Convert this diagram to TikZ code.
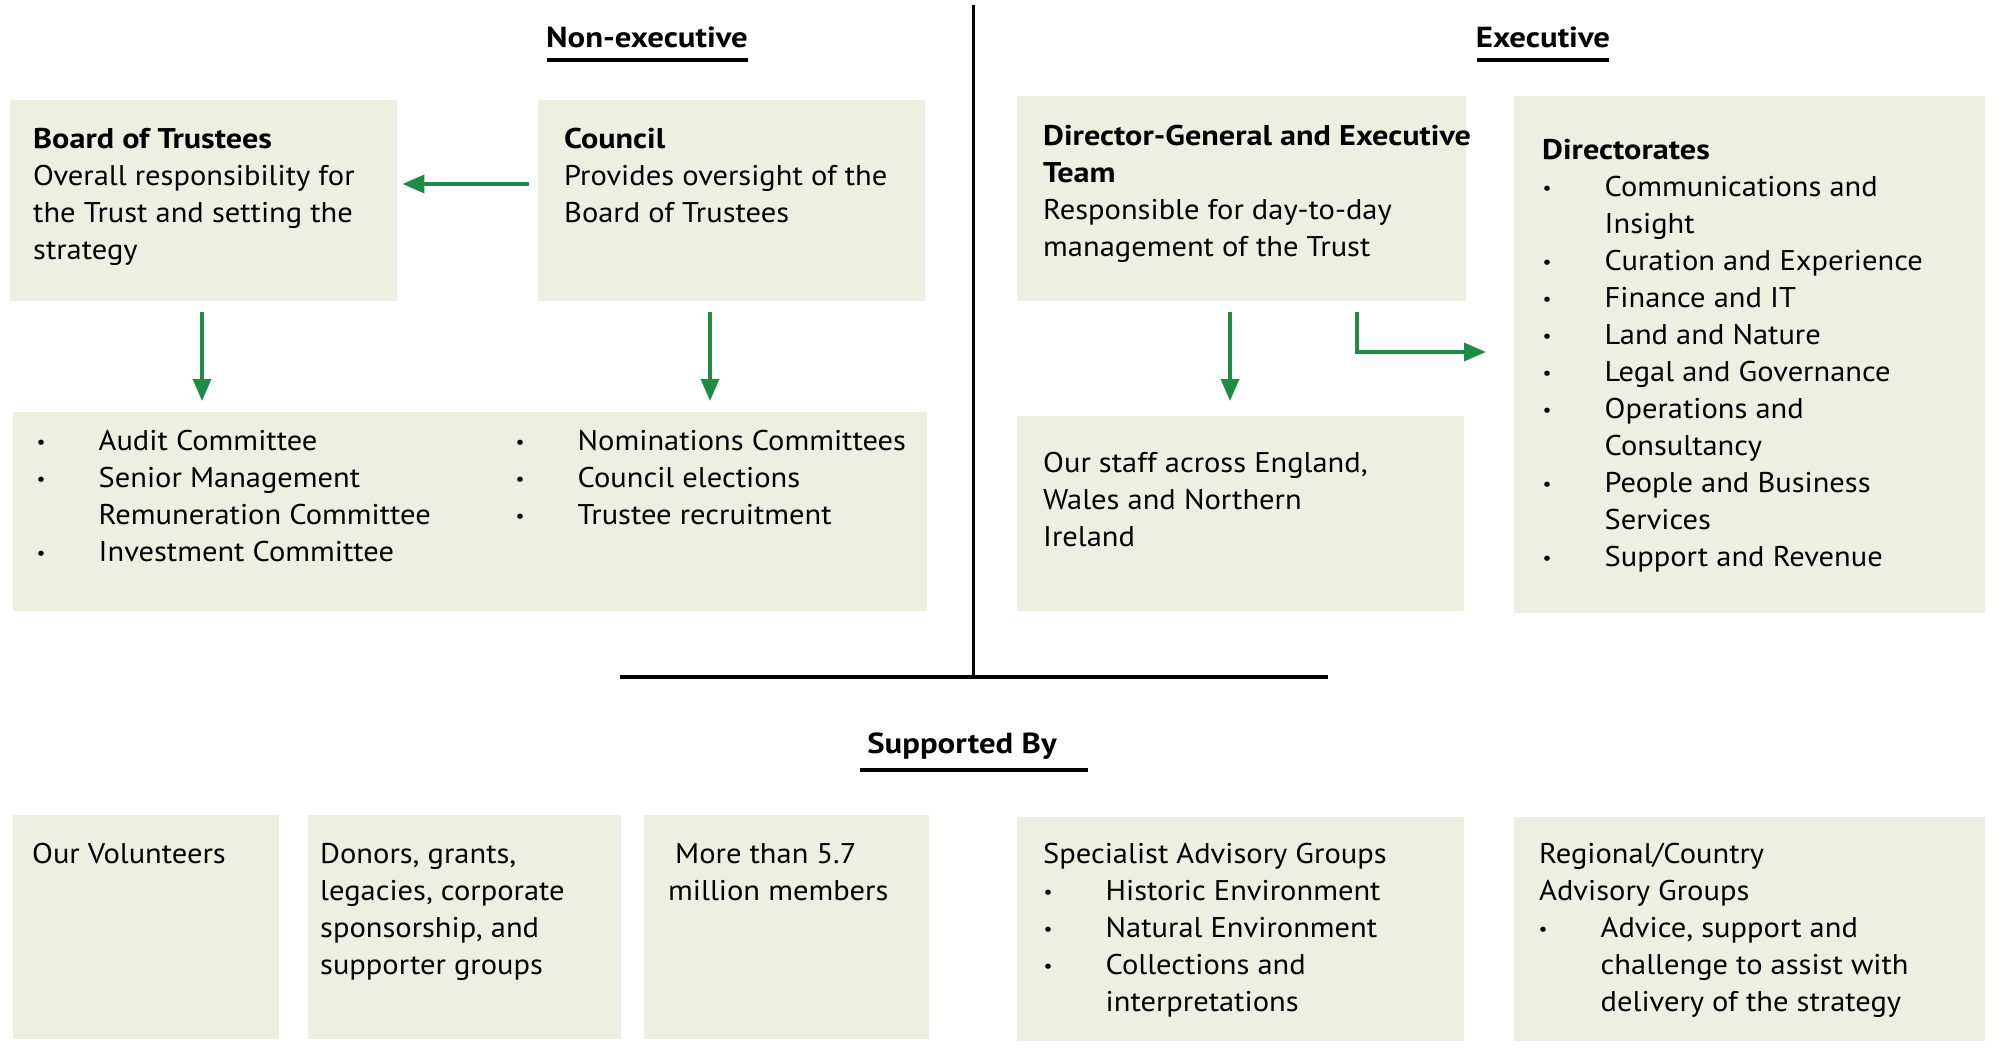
\documentclass[tikz,border=0pt]{standalone}
\usepackage{fontspec}
\setmainfont{PT Sans}[FakeStretch=1.07, BoldFeatures={FakeStretch=1.13}]
\usetikzlibrary{arrows.meta}
\definecolor{boxfill}{HTML}{EDF0E0}
\definecolor{ntgreen}{HTML}{1E8C45}
\newcommand{\bodyfont}{\fontsize{28.5}{37}\selectfont}
\newcommand{\titlefont}{\fontsize{29}{37}\selectfont\bfseries}
\newcommand{\blt}[1]{\makebox[0pt][c]{\raisebox{2pt}{\scalebox{0.65}{\textbullet}}}\hspace*{57.5pt}#1}
\newcommand{\ind}[1]{\hspace*{57.5pt}#1}
\newcommand{\lines}[1]{\begin{tabular}[t]{@{}l@{}}#1\end{tabular}}
\tikzset{
  box/.style={fill=boxfill, draw=none, inner sep=0pt, anchor=north west},
  txt/.style={inner sep=0pt, anchor=base west, font=\bodyfont},
  ttl/.style={inner sep=0pt, anchor=base, font=\titlefont},
  garrow/.style={draw=ntgreen, line width=3.5pt, -{Triangle[length=22pt,width=18pt]}},
  rule/.style={draw=black, line width=4pt},
}
\begin{document}
\begin{tikzpicture}[x=1pt,y=-1pt]
\useasboundingbox (0,0) rectangle (2000,1050);
% boxes
\node[box, minimum width=387pt, minimum height=201pt] (board) at (10,100) {};
\node[box, minimum width=387pt, minimum height=201pt] (council) at (538,100) {};
\node[box, minimum width=449pt, minimum height=205pt] (dg) at (1017,96) {};
\node[box, minimum width=471pt, minimum height=517pt] (dirs) at (1514,96) {};
\node[box, minimum width=914pt, minimum height=199pt] (comm) at (13,412) {};
\node[box, minimum width=447pt, minimum height=195pt] (staff) at (1017,416) {};
\node[box, minimum width=266pt, minimum height=224pt] (vol) at (13,815) {};
\node[box, minimum width=313pt, minimum height=224pt] (donors) at (308,815) {};
\node[box, minimum width=285pt, minimum height=224pt] (members) at (644,815) {};
\node[box, minimum width=447pt, minimum height=224pt] (spec) at (1017,817) {};
\node[box, minimum width=471pt, minimum height=224pt] (reg) at (1514,817) {};
% titles
\node[ttl] (nonexec) at (647,47) {Non-executive};
\node[ttl] (exec) at (1543,47) {Executive};
\node[ttl] (supp) at (962,753) {Supported By};
\draw[rule] (547,60) -- (748,60);
\draw[rule] (1477,60) -- (1609,60);
\draw[rule] (860,770) -- (1088,770);
% dividers
\draw[draw=black, line width=3pt] (973,5) -- (973,677);
\draw[rule] (620,677) -- (1328,677);
% texts
\node[txt] (boardtxt) at (33,148) {\lines{\textbf{Board of Trustees}\\Overall responsibility for\\the Trust and setting the\\strategy}};
\node[txt] (counciltxt) at (564,148) {\lines{\textbf{Council}\\Provides oversight of the\\Board of Trustees}};
\node[txt] (dgtxt) at (1043,145) {\lines{\textbf{Director-General and Executive}\\\textbf{Team}\\Responsible for day-to-day\\management of the Trust}};
\node[txt] (dirstxt) at (1547,159) {\lines{\hspace*{-5pt}\textbf{Directorates}\\\blt{Communications and}\\\ind{Insight}\\\blt{Curation and Experience}\\\blt{Finance and IT}\\\blt{Land and Nature}\\\blt{Legal and Governance}\\\blt{Operations and}\\\ind{Consultancy}\\\blt{People and Business}\\\ind{Services}\\\blt{Support and Revenue}}};
\node[txt] (commL) at (41,450) {\lines{\blt{Audit Committee}\\\blt{Senior Management}\\\ind{Remuneration Committee}\\\blt{Investment Committee}}};
\node[txt] (commR) at (520,450) {\lines{\blt{Nominations Committees}\\\blt{Council elections}\\\blt{Trustee recruitment}}};
\node[txt] (stafftxt) at (1043,472) {\lines{Our staff across England,\\Wales and Northern\\Ireland}};
\node[txt] (voltxt) at (32,863) {Our Volunteers};
\node[txt] (donortxt) at (320,863) {\lines{Donors, grants,\\legacies, corporate\\sponsorship, and\\supporter groups}};
\node[txt] (memtxt) at (668,863) {\lines{\hspace*{7pt}More than 5.7\\million members}};
\node[txt] (spectxt) at (1048,863) {\lines{\hspace*{-5pt}Specialist Advisory Groups\\\blt{Historic Environment}\\\blt{Natural Environment}\\\blt{Collections and}\\\ind{interpretations}}};
\node[txt] (regtxt) at (1543,863) {\lines{\hspace*{-4pt}Regional/Country\\\hspace*{-4pt}Advisory Groups\\\blt{Advice, support and}\\\ind{challenge to assist with}\\\ind{delivery of the strategy}}};
% connectors
\coordinate (hy) at (0,184);
\coordinate (ax1) at (202,0);
\coordinate (ax2) at (710,0);
\coordinate (ax3) at (1230,0);
\coordinate (ax4) at (1357,0);
\coordinate (ey) at (0,352);
\draw[garrow, shorten <=9pt, shorten >=5pt] (council.west |- hy) -- (board.east |- hy);
\draw[garrow, shorten <=11pt, shorten >=11pt] (board.south -| ax1) -- (comm.north -| ax1);
\draw[garrow, shorten <=11pt, shorten >=11pt] (council.south -| ax2) -- (comm.north -| ax2);
\draw[garrow, shorten <=11pt, shorten >=15pt] (dg.south -| ax3) -- (staff.north -| ax3);
\draw[garrow, shorten <=11pt, shorten >=28pt] (dg.south -| ax4) |- (dirs.west |- ey);
\end{tikzpicture}
\end{document}
